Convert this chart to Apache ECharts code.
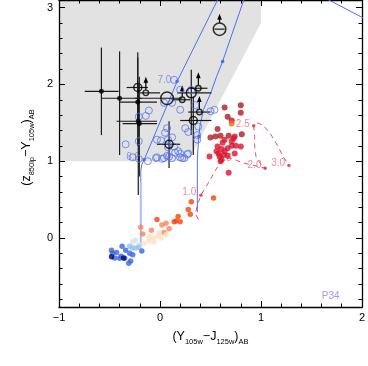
<!DOCTYPE html>
<html><head><meta charset="utf-8">
<script src="https://cdn.jsdelivr.net/npm/echarts@6/dist/echarts.min.js"></script>
<style>html,body{margin:0;padding:0;background:#fff}#c{width:368px;height:366px}</style>
</head><body><div id="c"></div>
<script>
// ---- axes ----
const xMajor = [-1, 0, 1, 2];
const xMinor = [-0.8,-0.6,-0.4,-0.2,0.2,0.4,0.6,0.8,1.2,1.4,1.6,1.8];
const yMajor = [0, 1, 2, 3];
const yMinor = [-0.8,-0.6,-0.4,-0.2,0.2,0.4,0.6,0.8,1.2,1.4,1.6,1.8,2.2,2.4,2.6,2.8];

// ---- selection region ----
const greyRegion = [[-1,3.1],[1.0,3.1],[1.0,2.8],[0.28,1.0],[-1,1.0]];

// ---- model tracks ----
const track1Lower = [[-0.19,-0.11],[-0.19,0.72]];
const track1 = [[-0.19,0.72],[-0.19,0.88],[-0.18,0.96],[-0.157,1.017],[0.17,2.04],[0.57,3.1]];
const track2 = [[0.37,0.335],[0.37,1.0],[0.375,1.15],[0.385,1.32],[0.395,1.45],[0.43,1.67],[0.50,1.88],[0.56,2.10],[0.62,2.30],[0.83,3.1]];
const track3 = [[1.60,3.15],[2.05,2.84]];
const trackDots = [[-0.157,1.017],[0.17,2.04],[0.385,1.32],[0.62,2.30]];
const redTrack = [[0.38,0.24],[0.35,0.32],[0.37,0.42],[0.405,0.557],[0.487,0.734],[0.552,0.887],[0.62,1.02],[0.683,1.04],[0.748,1.017],[0.814,0.98],[0.977,0.93],[1.042,0.909],[1.003,0.95],[0.951,1.06],[0.938,1.19],[0.938,1.32],[0.928,1.46],[0.96,1.50],[1.02,1.47],[1.09,1.365],[1.17,1.19],[1.22,1.06],[1.277,0.943]];
const redTrackDots = [[0.405,0.557],[1.042,0.909],[0.928,1.46],[1.277,0.943]];
const blueLabels = [[-0.265,1.056,'6.0'],[0.044,2.06,'7.0']];
const redLabels = [[0.29,0.60,'1.0'],[0.64,1.04,'1.5'],[0.936,0.95,'2.0'],[0.82,1.486,'2.5'],[1.17,0.97,'3.0']];
const fieldLabel = [[1.69,-0.763,'P34']];

// ---- candidates (black) ----
const blackFilled = [[-0.58,1.91],[-0.40,1.82],[-0.22,1.77],[-0.215,1.52],[-0.205,1.49]];
const blackOpenSmall = [[-0.14,1.89],[0.22,1.80],[0.38,1.95],[0.39,1.64]];
const blackOpenMed = [[-0.22,1.96],[0.33,1.53],[0.09,1.22]];
const blackOpenBig = [[0.31,1.89]];
const blackOpenLarge = [[0.07,1.82],[0.59,2.72]];
// horizontal error bars: [y, xlo, xhi]
const errH = [[1.91,-0.745,-0.41],[1.82,-0.58,-0.18],[1.77,-0.40,-0.03],[1.52,-0.43,-0.03],[1.49,-0.37,-0.03],
  [1.96,-0.33,-0.12],[1.89,-0.20,0.0],[1.82,-0.25,0.22],[1.80,0.13,0.30],[1.89,0.17,0.51],[1.95,0.30,0.47],
  [1.64,0.28,0.50],[1.53,0.20,0.51],[1.22,-0.03,0.20],[2.72,0.54,0.64]];
// vertical error bars: [x, ylo, yhi]
const errV = [[-0.58,1.34,2.48],[-0.40,1.08,2.43],[-0.22,1.20,2.35],[-0.215,0.56,2.0],[-0.205,0.80,2.10],
  [-0.22,1.50,2.42],[0.31,1.34,2.19],[0.33,1.08,1.84],[0.09,0.91,1.52]];
// upper limits: [x, yStart, yTip]
const arrows = [[-0.14,1.93,2.10],[0.22,1.84,1.99],[0.38,1.99,2.16],[0.39,1.68,1.85],[0.59,2.80,2.92]];

// ---- comparison samples ----
const blueOpen = [[-0.34,1.22],[-0.21,1.26],[-0.21,1.58],[-0.14,1.59],[-0.11,1.66],[-0.03,1.28],[0.01,1.27],[0.04,1.76],[0.08,1.28],[0.07,1.43],[0.05,1.37],[0.12,1.76],[0.12,1.31],[0.14,1.19],[0.15,1.11],[0.14,2.06],[0.20,1.93],[0.31,1.93],[0.20,1.67],[0.25,1.43],[0.28,1.38],[0.35,1.73],[0.37,1.34],[0.37,1.28],[0.38,1.45],[0.50,1.65],[0.54,1.67],[0.20,1.10],[0.20,1.05],[0.24,1.04],[0.28,1.10],[0.04,1.04],[0.09,1.06],[-0.27,1.05],[-0.21,1.03],[-0.12,1.00],[-0.04,1.04],[0.02,1.03],[0.12,1.04],[0.07,1.07],[-0.03,1.05],[0.08,1.18],[0.18,1.13],[0.22,1.04],[0.27,1.09]];
const redDark = [[0.64,1.70],[0.80,1.73],[0.80,1.63],[0.67,1.58],[0.71,1.53],[0.57,1.42],[0.50,1.31],[0.55,1.32],[0.60,1.33],[0.81,1.35],[0.68,1.33]];
const redOrange = [[0.71,1.49]];
const redCrimson = [[0.74,1.32],[0.64,1.28],[0.71,1.26],[0.75,1.20],[0.80,1.19],[0.57,1.19],[0.61,1.16],[0.64,1.13],[0.56,1.13],[0.59,1.06],[0.49,1.06],[0.67,1.07],[0.74,1.10],[0.68,0.85],[0.60,1.00],[0.62,1.24],[0.67,1.17],[0.71,1.20],[0.63,1.08],[0.58,1.10],[0.61,1.02],[0.73,1.30]];
const starOrangeRed = [[-0.03,0.24],[0.31,0.47],[0.28,0.37],[0.30,0.31],[0.20,0.21],[0.18,0.28],[0.16,0.22],[0.14,0.21],[0.53,0.52]];
const starSalmon = [[-0.19,0.14],[-0.17,0.05],[-0.085,0.10],[0.02,0.17],[0.06,0.19],[0.04,0.07],[0.09,0.12]];
const starPeach = [[-0.11,0.02],[-0.075,0.0],[-0.03,0.02],[0.01,0.0],[0.06,0.04],[-0.06,-0.05],[-0.11,-0.04],[-0.16,-0.07],[-0.01,0.065]];
const starLavender = [[-0.27,-0.05],[-0.21,-0.09],[-0.245,-0.03]];
const starLightBlue = [[-0.30,-0.11],[-0.27,-0.13],[-0.24,-0.13],[-0.21,-0.12]];
const starBlue = [[-0.48,-0.16],[-0.43,-0.19],[-0.375,-0.11],[-0.34,-0.16],[-0.30,-0.20],[-0.27,-0.22],[-0.18,-0.17],[-0.385,-0.24],[-0.35,-0.265],[-0.40,-0.265],[-0.45,-0.26],[-0.29,-0.30],[-0.31,-0.33],[-0.47,-0.20]];
const starNavy = [[-0.48,-0.245],[-0.36,-0.26]];

const FONT = 'Liberation Sans';
function minus(v){ return v < 0 ? '\u2212' + Math.abs(v) : String(v); }
function axisX(pos, ticks, len, withLabels, withLine, extra){
  return Object.assign({type:'value', min:-1, max:2, position:pos,
    axisLine:{show:withLine, onZero:false, lineStyle:{color:'#000', width:1.3}},
    axisTick:{show:true, inside:true, length:len, customValues:ticks, lineStyle:{color:'#000', width:1}},
    axisLabel: withLabels ? {show:true, customValues:ticks, formatter:minus, color:'#000', fontSize:11, fontFamily:FONT, margin:5} : {show:false},
    splitLine:{show:false}}, extra||{});
}
function axisY(pos, ticks, len, withLabels, withLine, extra){
  return Object.assign({type:'value', min:-0.9, max:3.1, position:pos,
    axisLine:{show:withLine, onZero:false, lineStyle:{color:'#000', width:1.3}},
    axisTick:{show:true, inside:true, length:len, customValues:ticks, lineStyle:{color:'#000', width:1}},
    axisLabel: withLabels ? {show:true, customValues:ticks, formatter:minus, color:'#000', fontSize:11, fontFamily:FONT, margin:6} : {show:false},
    splitLine:{show:false}}, extra||{});
}
const nameStyle = {color:'#000', fontSize:12.5, fontFamily:FONT, lineHeight:18,
  rich:{s:{fontSize:7.5, fontFamily:FONT, color:'#000', lineHeight:8, verticalAlign:'bottom'}}};

function scatter(data, size, color, z, open){
  return {type:'scatter', data:data, symbol:'circle', symbolSize:size, z:z, silent:true,
    itemStyle: open ? {color:'rgba(0,0,0,0)', borderColor:color, borderWidth:open} : {color:color}};
}
function line(data, color, width, z, dash){
  return {type:'line', data:data, showSymbol:false, symbol:'none', z:z, silent:true, smooth:false,
    lineStyle:{color:color, width:width, type: dash || 'solid'}};
}
function labels(arr, color, z){
  return {type:'scatter', symbolSize:0, z:z, silent:true,
    data: arr.map(a => ({value:[a[0],a[1]], name:a[2]})),
    label:{show:true, position:'inside', formatter:'{b}', color:color, fontSize:10, fontFamily:FONT}};
}

const option = {
  animation:false,
  backgroundColor:'#fff',
  grid:{left:59, right:3, top:0, bottom:59, containLabel:false},
  xAxis:[
    axisX('bottom', xMajor, 6, true, true, {name:'(Y{s|105w}\u2212J{s|125w}){s|AB}', nameLocation:'middle', nameGap:10, nameTextStyle:nameStyle}),
    axisX('bottom', xMinor, 3.5, false, false),
    axisX('top', xMajor, 6, false, true),
    axisX('top', xMinor, 3.5, false, false)
  ],
  yAxis:[
    axisY('left', yMajor, 6, true, true, {name:'(z{s|850lp}\u2212Y{s|105w}){s|AB}', nameLocation:'middle', nameGap:15, nameTextStyle:Object.assign({}, nameStyle, {padding:[0,0,0,12]})}),
    axisY('left', yMinor, 3.5, false, false),
    axisY('right', yMajor, 6, false, true),
    axisY('right', yMinor, 3.5, false, false)
  ],
  series:[
    {type:'custom', z:0, silent:true, data:[[0,0]],
      renderItem:(p, api) => ({type:'polygon', shape:{points: greyRegion.map(q => api.coord(q))}, style:{fill:'#e2e2e2'}})},
    line(track1Lower, '#a9bff6', 2, 1),
    line(track1, '#4d72f0', 1, 1),
    line(track2, '#4d72f0', 1, 1),
    line(track3, '#4d72f0', 1, 1),
    line(redTrack, '#e4506c', 1, 1, [5,4]),
    scatter(trackDots, 3.5, '#2e55f0', 2),
    scatter(redTrackDots, 3.5, '#e02848', 2),
    labels(blueLabels, '#6f84f2', 2),
    labels(redLabels, '#ea6d86', 2),
    labels(fieldLabel, '#8a7cf0', 2),
    {type:'custom', z:3, silent:true, data: errH.map(d => [d[1], d[0]]),
      renderItem:(p, api) => { const d = errH[p.dataIndex]; const a = api.coord([d[1], d[0]]), b = api.coord([d[2], d[0]]);
        return {type:'line', shape:{x1:a[0], y1:a[1], x2:b[0], y2:b[1]}, style:{stroke:'#1a1a1a', lineWidth:1.2}}; }},
    {type:'custom', z:3, silent:true, data: errV.map(d => [d[0], d[1]]),
      renderItem:(p, api) => { const d = errV[p.dataIndex]; const a = api.coord([d[0], d[1]]), b = api.coord([d[0], d[2]]);
        return {type:'line', shape:{x1:a[0], y1:a[1], x2:b[0], y2:b[1]}, style:{stroke:'#1a1a1a', lineWidth:1.2}}; }},
    {type:'custom', z:3, silent:true, data: arrows.map(d => [d[0], d[1]]),
      renderItem:(p, api) => { const d = arrows[p.dataIndex]; const a = api.coord([d[0], d[1]]), t = api.coord([d[0], d[2]]);
        return {type:'group', children:[
          {type:'line', shape:{x1:a[0], y1:a[1], x2:t[0], y2:t[1]+4}, style:{stroke:'#000', lineWidth:1.2}},
          {type:'polygon', shape:{points:[[t[0], t[1]], [t[0]-2.3, t[1]+6], [t[0]+2.3, t[1]+6]]}, style:{fill:'#000'}}
        ]}; }},
    scatter(blueOpen, 7, '#5676ee', 4, 1),
    scatter(redDark, 6, '#b01c22', 4),
    scatter(redCrimson, 6, '#d9142e', 4),
    scatter(redOrange, 6, '#f26a10', 4),
    scatter(starOrangeRed, 5.5, '#f2460c', 4),
    scatter(starSalmon, 5.5, '#f7845a', 4),
    scatter(starPeach, 5.5, '#fde0c6', 4),
    scatter(starLavender, 5.5, '#dcdff2', 4),
    scatter(starLightBlue, 5.5, '#8ec6f4', 4),
    scatter(starBlue, 5.5, '#3b66dc', 4),
    scatter(starNavy, 5.5, '#00087a', 4),
    scatter(blackFilled, 5, '#000', 5),
    scatter(blackOpenSmall, 5.5, '#000', 5, 1.4),
    scatter(blackOpenMed, 8, '#000', 5, 1.5),
    scatter(blackOpenBig, 10, '#000', 5, 1.5),
    scatter(blackOpenLarge, 12.5, '#000', 5, 1.5)
  ]
};
const chart = echarts.init(document.getElementById('c'), null, {renderer:'canvas'});
chart.setOption(option);
</script></body></html>
